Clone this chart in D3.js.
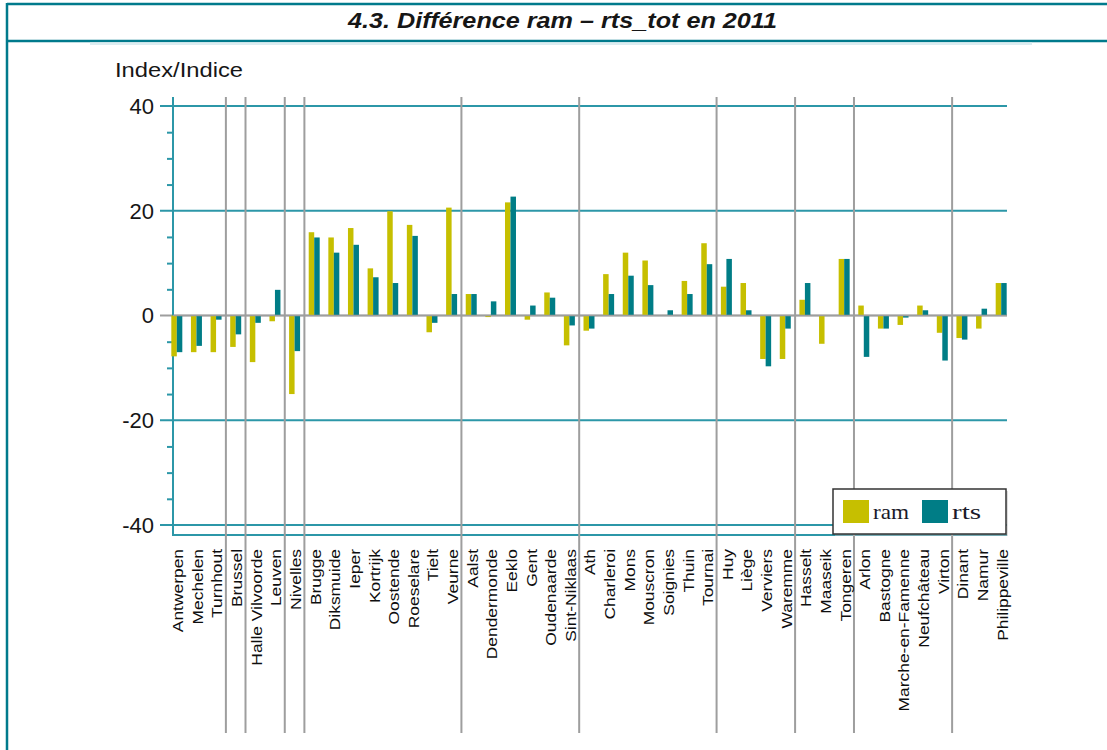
<!DOCTYPE html>
<html>
<head>
<meta charset="utf-8">
<script src="https://cdn.jsdelivr.net/npm/d3@7/dist/d3.min.js"></script>
<style>
  html, body { margin: 0; padding: 0; background: #fff; }
  svg { display: block; }
  text { font-family: "Liberation Sans", Arial, sans-serif; fill: #161616; }
</style>
</head>
<body>
<svg id="chart" width="1107" height="750"></svg>
<script>
// ---- data ----
const categories = ["Antwerpen","Mechelen","Turnhout","Brussel","Halle Vilvoorde","Leuven","Nivelles",
  "Brugge","Diksmuide","Ieper","Kortrijk","Oostende","Roeselare","Tielt","Veurne",
  "Aalst","Dendermonde","Eeklo","Gent","Oudenaarde","Sint-Niklaas",
  "Ath","Charleroi","Mons","Mouscron","Soignies","Thuin","Tournai",
  "Huy","Liège","Verviers","Waremme","Hasselt","Maaseik","Tongeren",
  "Arlon","Bastogne","Marche-en-Famenne","Neufchâteau","Virton","Dinant","Namur","Philippeville"];
const ram = [-7.8,-7.0,-7.0,-6.0,-8.9,-1.1,-15.0,
  15.9,14.9,16.7,9.0,19.9,17.3,-3.2,20.6,
  4.1,-0.3,21.6,-0.8,4.4,-5.7,
  -2.9,7.9,12.0,10.5,0.1,6.6,13.8,
  5.5,6.2,-8.3,-8.3,3.0,-5.4,10.8,
  1.9,-2.5,-1.8,1.9,-3.3,-4.3,-2.5,6.2];
const rts = [-7.0,-5.8,-0.8,-3.6,-1.4,4.9,-6.8,
  14.9,12.0,13.5,7.3,6.2,15.2,-1.4,4.1,
  4.1,2.7,22.7,1.9,3.4,-1.9,
  -2.5,4.1,7.6,5.8,1.0,4.1,9.8,
  10.8,1.0,-9.7,-2.5,6.2,-0.1,10.8,
  -7.9,-2.5,-0.4,1.0,-8.6,-4.6,1.3,6.2];
const seriesNames = ["ram","rts"];
const groupStarts = ["Brussel","Halle Vilvoorde","Nivelles","Brugge","Aalst","Ath","Huy","Hasselt","Arlon","Dinant"];
const yTicks = [-40,-20,0,20,40];
const yMinor = [-35,-30,-25,-15,-10,-5,5,10,15,25,30,35];
const title = "4.3. Différence ram – rts_tot en 2011";
const yLabel = "Index/Indice";

// ---- styles ----
const colors = { ram: "#c6bf00", rts: "#007d86" };
const frameColor = "#007a8c";
const gridColor = "#2c97a8";
const sepColor = "#9e9e9e";

const svg = d3.select("#chart");

// frame
svg.append("line").attr("x1",7).attr("x2",1107).attr("y1",4).attr("y2",4).attr("stroke",frameColor).attr("stroke-width",2.5);
svg.append("line").attr("x1",7).attr("x2",7).attr("y1",3).attr("y2",750).attr("stroke",frameColor).attr("stroke-width",2.5);
svg.append("line").attr("x1",7).attr("x2",1107).attr("y1",41).attr("y2",41).attr("stroke",frameColor).attr("stroke-width",2.5);
svg.append("rect").attr("x",90).attr("y",42.5).attr("width",942).attr("height",2.5).attr("fill","#dcedf1");

svg.append("text").attr("x",348).attr("y",28)
  .attr("textLength",429).attr("lengthAdjust","spacingAndGlyphs")
  .style("font-size","21.5px").style("font-weight","bold").style("font-style","italic").text(title);

// scales
const x = d3.scaleBand().domain(categories).range([167, 1011]).paddingInner(0.44).paddingOuter(0.22);
const xs = d3.scaleBand().domain(seriesNames).range([0, x.bandwidth()]);
const y = d3.scaleLinear().domain([-40, 40]).range([525, 106]);

const axisX = 173, gridRight = 1007;

// y-axis label
svg.append("text").attr("x",115).attr("y",77).attr("textLength",128).attr("lengthAdjust","spacingAndGlyphs")
  .style("font-size","20px").text(yLabel);

// horizontal grid
svg.append("g").selectAll("line").data(yTicks).join("line")
  .attr("x1",160).attr("x2",gridRight)
  .attr("y1",d=>y(d)).attr("y2",d=>y(d))
  .attr("stroke",d=> d===0 ? sepColor : gridColor).attr("stroke-width",2);

// y axis with minor ticks
const yAxisG = svg.append("g").attr("transform",`translate(${axisX},0)`)
  .call(d3.axisLeft(y).tickValues(yMinor).tickSize(6).tickFormat(""));
yAxisG.select(".domain").remove();
yAxisG.selectAll("line").attr("stroke",gridColor).attr("stroke-width",2);
svg.append("line").attr("x1",axisX).attr("x2",axisX).attr("y1",97).attr("y2",536).attr("stroke",gridColor).attr("stroke-width",2);
svg.append("line").attr("x1",axisX-1).attr("x2",gridRight).attr("y1",535).attr("y2",535).attr("stroke",gridColor).attr("stroke-width",2);

// y tick labels
svg.append("g").selectAll("text").data(yTicks).join("text")
  .attr("x",154).attr("y",d=>y(d)).attr("dy","0.36em").attr("text-anchor","end")
  .style("font-size","22px").text(d=>d);

// separators
const halfGap = (x.step() - x.bandwidth())/2;
svg.append("g").selectAll("line").data(groupStarts).join("line")
  .attr("x1",d=>x(d)-halfGap).attr("x2",d=>x(d)-halfGap)
  .attr("y1",97).attr("y2",733).attr("stroke",sepColor).attr("stroke-width",2);

// bars
const rows = categories.map((c,i)=>({cat:c, ram:ram[i], rts:rts[i]}));
const gBars = svg.append("g");
seriesNames.forEach(s=>{
  gBars.selectAll(".b-"+s).data(rows).join("rect").attr("class","b-"+s)
    .attr("x",d=>x(d.cat)+xs(s)).attr("width",xs.bandwidth())
    .attr("y",d=>y(Math.max(0,d[s]))).attr("height",d=>Math.abs(y(d[s])-y(0)))
    .attr("fill",colors[s]);
});
// zero line on top
svg.append("line").attr("x1",axisX).attr("x2",gridRight).attr("y1",y(0)).attr("y2",y(0)).attr("stroke",sepColor).attr("stroke-width",1.5);

// x labels
svg.append("g").selectAll("text").data(categories).join("text")
  .attr("transform",d=>`translate(${x(d)+x.bandwidth()/2+1},549) rotate(-90) scale(1.16,1)`)
  .attr("dy","0.36em").attr("text-anchor","end")
  .style("font-size","15px").style("fill","#0e0e0e").text(d=>d);

// legend
const lg = svg.append("g");
lg.append("rect").attr("x",835).attr("y",491).attr("width",173).attr("height",45).attr("fill","#bbb").attr("opacity",0.5);
lg.append("rect").attr("x",833).attr("y",489).attr("width",173).attr("height",45).attr("fill","#fff").attr("stroke","#333").attr("stroke-width",1.5);
const legX = { ram: 843, rts: 922 };
seriesNames.forEach(s=>{
  lg.append("rect").attr("x",legX[s]).attr("y",500).attr("width",26).attr("height",23).attr("fill",colors[s]);
  lg.append("text").attr("x",legX[s]+30).attr("y",519)
    .attr("textLength", s==="ram"?36:29).attr("lengthAdjust","spacingAndGlyphs")
    .style("font-family","'Liberation Serif', 'DejaVu Serif', serif").style("font-size","22px").style("fill","#1a1a2a")
    .text(s);
});
</script>
</body>
</html>
